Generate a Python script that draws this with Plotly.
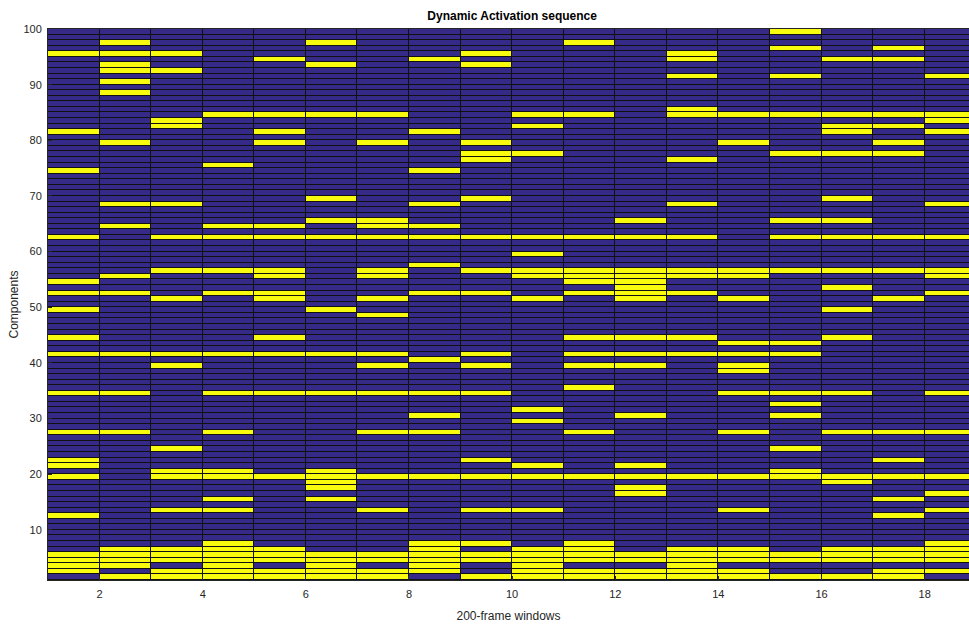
import plotly.graph_objects as go

# Active components (rows, lower edge index) per 200-frame window (columns 1..18)
w01 = [95, 81, 74, 62, 54, 52, 49, 44, 41, 34, 27, 22, 21, 19, 12, 5, 4, 3, 2]
w02 = [97, 95, 93, 92, 90, 88, 79, 68, 64, 55, 52, 41, 34, 27, 6, 5, 4, 3, 1]
w03 = [95, 92, 83, 82, 68, 62, 56, 51, 41, 39, 24, 20, 19, 13, 6, 5, 4, 2, 1]
w04 = [84, 75, 64, 62, 56, 52, 41, 34, 27, 20, 19, 15, 13, 7, 6, 5, 4, 3, 2, 1]
w05 = [94, 84, 81, 79, 64, 62, 56, 55, 52, 51, 44, 41, 34, 19, 6, 5, 4, 2, 1]
w06 = [97, 93, 84, 69, 65, 62, 49, 41, 34, 20, 19, 18, 17, 15, 5, 4, 3, 2, 1]
w07 = [84, 79, 65, 64, 62, 56, 55, 51, 48, 41, 39, 34, 27, 19, 13, 5, 4, 2, 1]
w08 = [94, 81, 74, 68, 64, 62, 57, 52, 40, 34, 30, 27, 19, 7, 6, 5, 4, 3, 2]
w09 = [95, 93, 79, 77, 76, 69, 62, 56, 52, 41, 39, 34, 22, 19, 13, 7, 5, 4, 1]
w10 = [84, 82, 77, 62, 59, 56, 55, 51, 31, 29, 21, 19, 13, 6, 5, 4, 3, 2, 1]
w11 = [97, 84, 62, 56, 55, 54, 52, 44, 41, 39, 35, 27, 19, 7, 6, 5, 4, 2, 1]
w12 = [65, 62, 56, 55, 54, 53, 52, 51, 44, 41, 39, 30, 21, 19, 17, 16, 5, 4, 2, 1]
w13 = [95, 94, 91, 85, 84, 76, 68, 62, 56, 55, 52, 44, 41, 19, 6, 5, 4, 3, 2, 1]
w14 = [84, 79, 56, 55, 51, 43, 41, 39, 38, 34, 27, 19, 13, 6, 5, 4, 2, 1]
w15 = [99, 96, 91, 84, 77, 65, 62, 56, 43, 41, 34, 32, 30, 24, 20, 19, 5, 4, 1]
w16 = [94, 84, 82, 81, 77, 69, 65, 62, 56, 53, 49, 44, 34, 27, 19, 18, 6, 5, 4, 1]
w17 = [96, 94, 84, 82, 79, 77, 62, 56, 51, 27, 22, 19, 15, 12, 6, 5, 4, 2, 1]
w18 = [91, 84, 83, 81, 68, 62, 56, 55, 52, 34, 27, 19, 16, 13, 7, 6, 5, 4, 2]

windows = [w01, w02, w03, w04, w05, w06, w07, w08, w09,
           w10, w11, w12, w13, w14, w15, w16, w17, w18]
n_components = 100
x_ticks = [2, 4, 6, 8, 10, 12, 14, 16, 18]
y_ticks = [10, 20, 30, 40, 50, 60, 70, 80, 90, 100]

# pcolor-style grid: cell (col, row) spans [col, col+1] x [row, row+1]
x_centers = [i + 1.5 for i in range(len(windows))]
y_centers = [r + 0.5 for r in range(1, n_components)]
z = [[1 if r in w else 0 for w in windows] for r in range(1, n_components)]

fig = go.Figure(go.Heatmap(
    x=x_centers, y=y_centers, z=z,
    zmin=0, zmax=1,
    colorscale=[[0, "#352A87"], [1, "#F9FB0E"]],
    showscale=False, xgap=1, ygap=1, hoverinfo="skip",
))

font_family = "Liberation Sans, Arial, sans-serif"
fig.update_layout(
    width=969, height=628,
    margin=dict(l=48, r=0, t=29, b=48, autoexpand=False),
    paper_bgcolor="white", plot_bgcolor="#111111",
    font=dict(family=font_family, size=11, color="#262626"),
    title=dict(text="<b>Dynamic Activation sequence</b>", x=0.504, xref="paper",
               xanchor="center", y=1 - 16 / 628, yanchor="middle",
               font=dict(size=12, color="black", family=font_family)),
)
fig.update_xaxes(
    range=[1, 18.86], tickvals=x_ticks, ticktext=[str(t) for t in x_ticks],
    ticks="inside", ticklen=4, tickcolor="#262626",
    showline=True, linecolor="#262626", linewidth=1, mirror=True,
    showgrid=False, zeroline=False, ticklabelstandoff=4, automargin=False,
    title=dict(text="200-frame windows", standoff=12, font=dict(size=12)),
)
fig.update_yaxes(
    range=[1, 100], tickvals=y_ticks, ticktext=[str(t) for t in y_ticks],
    ticks="inside", ticklen=4, tickcolor="#262626",
    showline=True, linecolor="#262626", linewidth=1,
    showgrid=False, zeroline=False, ticklabelstandoff=3, automargin=False,
    title=dict(text="Components", standoff=2, font=dict(size=12)),
)
fig.write_html(
    "out.html",
    config={"displayModeBar": False},
    post_script="document.body.style.margin='0';"
                "document.documentElement.style.overflow='hidden';",
)
